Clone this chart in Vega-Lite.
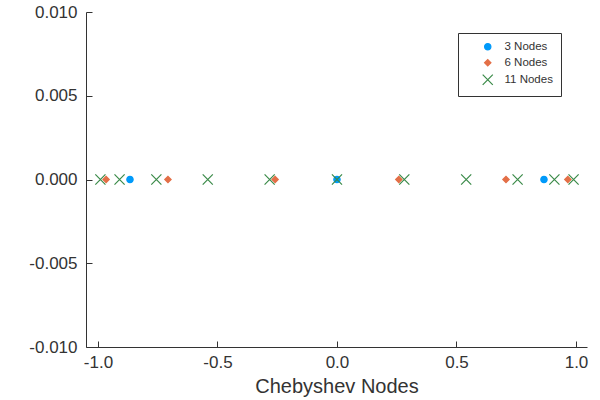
{
  "$schema": "https://vega.github.io/schema/vega-lite/v6.json",
  "width": 501,
  "height": 335,
  "autosize": {"type": "none"},
  "padding": {"left": 86, "top": 12, "right": 13, "bottom": 53},
  "background": "white",
  "config": {
    "view": {"stroke": null},
    "font": "Liberation Sans",
    "axis": {
      "grid": false,
      "domainColor": "#333333",
      "tickColor": "#333333",
      "labelColor": "#333333",
      "titleColor": "#333333",
      "labelFont": "Liberation Sans",
      "titleFont": "Liberation Sans",
      "labelFontSize": 17,
      "titleFontSize": 20,
      "titleFontWeight": "normal",
      "tickSize": -6,
      "labelPadding": 15,
      "labelExpr": "replace(datum.label, '\u2212', '-')"
    }
  },
  "data": {
    "values": [
      {"node": -0.8660, "value": 0, "series": "3 Nodes"},
      {"node": 0.0, "value": 0, "series": "3 Nodes"},
      {"node": 0.8660, "value": 0, "series": "3 Nodes"},
      {"node": -0.9659, "value": 0, "series": "6 Nodes"},
      {"node": -0.7071, "value": 0, "series": "6 Nodes"},
      {"node": -0.2588, "value": 0, "series": "6 Nodes"},
      {"node": 0.2588, "value": 0, "series": "6 Nodes"},
      {"node": 0.7071, "value": 0, "series": "6 Nodes"},
      {"node": 0.9659, "value": 0, "series": "6 Nodes"},
      {"node": -0.9898, "value": 0, "series": "11 Nodes"},
      {"node": -0.9096, "value": 0, "series": "11 Nodes"},
      {"node": -0.7557, "value": 0, "series": "11 Nodes"},
      {"node": -0.5406, "value": 0, "series": "11 Nodes"},
      {"node": -0.2817, "value": 0, "series": "11 Nodes"},
      {"node": 0.0, "value": 0, "series": "11 Nodes"},
      {"node": 0.2817, "value": 0, "series": "11 Nodes"},
      {"node": 0.5406, "value": 0, "series": "11 Nodes"},
      {"node": 0.7557, "value": 0, "series": "11 Nodes"},
      {"node": 0.9096, "value": 0, "series": "11 Nodes"},
      {"node": 0.9898, "value": 0, "series": "11 Nodes"}
    ]
  },
  "mark": {"type": "point", "size": 40, "strokeWidth": 1.2, "opacity": 1, "fillOpacity": 1},
  "encoding": {
    "x": {
      "field": "node", "type": "quantitative",
      "scale": {"domain": [-1.05, 1.046], "nice": false, "zero": false},
      "axis": {"values": [-1, -0.5, 0, 0.5, 1], "format": ".1f", "title": "Chebyshev Nodes", "titlePadding": 6, "labelPadding": 13}
    },
    "y": {
      "field": "value", "type": "quantitative",
      "scale": {"domain": [-0.01, 0.01], "nice": false},
      "axis": {"values": [-0.01, -0.005, 0, 0.005, 0.01], "format": ".3f", "title": null}
    },
    "fill": {
      "field": "series", "type": "nominal",
      "scale": {"domain": ["3 Nodes", "6 Nodes", "11 Nodes"], "range": ["#009AFA", "#E36F47", "#3EA44E"]},
      "legend": {
        "title": null, "orient": "none", "legendX": 372, "legendY": 21,
        "strokeColor": "#333333", "fillColor": "white", "padding": 8,
        "labelFontSize": 11.5, "labelColor": "#333333", "labelOffset": 11,
        "symbolOffset": 16, "symbolSize": 40,
        "rowPadding": 3, "symbolStrokeWidth": 1.2, "cornerRadius": 0
      }
    },
    "stroke": {
      "field": "series", "type": "nominal",
      "scale": {"domain": ["3 Nodes", "6 Nodes", "11 Nodes"], "range": ["#009AFA", "#E36F47", "#3A8A48"]}
    },
    "shape": {
      "field": "series", "type": "nominal",
      "scale": {"domain": ["3 Nodes", "6 Nodes", "11 Nodes"], "range": ["circle", "diamond", "M-1.6,-1.6L1.6,1.6M-1.6,1.6L1.6,-1.6"]}
    }
  }
}
